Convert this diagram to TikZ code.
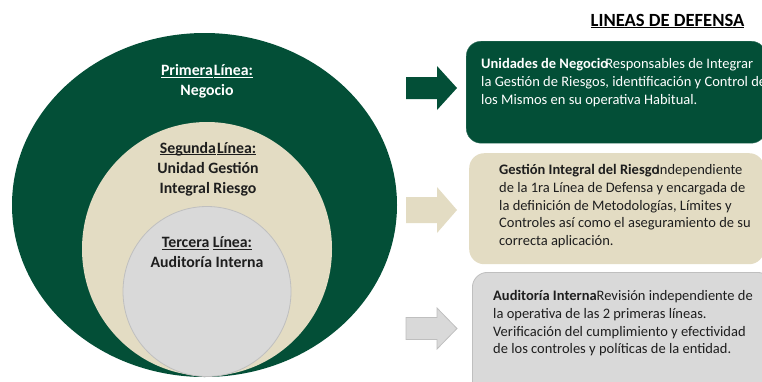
\documentclass[tikz,border=0pt]{standalone}
\usepackage{fontspec}
\setmainfont{Carlito}
\usetikzlibrary{shapes.geometric}
\definecolor{dgreen}{HTML}{034F37}
\definecolor{beige}{HTML}{E3DCC3}
\definecolor{lgray}{HTML}{D9D9D9}
\definecolor{gline}{HTML}{BFBFBF}
\definecolor{dtext}{HTML}{1E1E1E}
\newcommand\myul[1]{\setbox0\hbox{#1}\rlap{\rule[-2.2pt]{\wd0}{1.1pt}}\box0\relax}
\begin{document}
\begin{tikzpicture}[x=1pt,y=-1pt,
  ell/.style={ellipse,inner sep=0pt,draw=none},
  etxt/.style={align=center,inner sep=0pt,font=\fontsize{15.8}{20}\selectfont\bfseries},
  btxt/.style={align=left,inner sep=0pt,anchor=north west,font=\fontsize{14.5}{17.6}\selectfont},
  box/.style={rounded corners=15pt,inner sep=0pt,minimum width=300pt}
]
\useasboundingbox (0,0) rectangle (762,381);
\clip (0,0) rectangle (762,381);
% ellipses
\node[ell,fill=dgreen,minimum width=385pt,minimum height=344pt] (outer) at (204.5,205) {};
\node[ell,fill=beige,minimum width=250pt,minimum height=254pt] (mid) at (207,249) {};
\node[ell,fill=lgray,draw=gline,line width=0.8pt,minimum width=168pt,minimum height=170pt] (inner) at (207,291.5) {};
% ellipse texts
\node[etxt,text=white] (t1) at (207,81.5) {\myul{Primera}\kern1pt\myul{Línea:}\\Negocio};
\node[etxt,text=dtext] (t2) at (208,169) {\myul{Segunda}\kern1pt\myul{Línea:}\\Unidad Gestión\\Integral Riesgo};
\node[etxt,text=dtext] (t3) at (207,252) {\myul{Tercera} \myul{Línea:}\\Auditoría Interna};
% title
\node[anchor=base,inner sep=0pt,font=\fontsize{18.6}{22}\selectfont\bfseries,text=black] (title) at (667.5,26) {\myul{LINEAS DE DEFENSA}};
% arrows
\fill[dgreen] (406,77) -- (437,77) -- (437,66) -- (457,88) -- (437,110) -- (437,99) -- (406,99) -- cycle;
\fill[beige] (406,197) -- (437,197) -- (437,187) -- (457,210) -- (437,233) -- (437,223) -- (406,223) -- cycle;
\filldraw[fill=lgray,draw=gline,line width=0.8pt] (406,317.5) -- (437,317.5) -- (437,308) -- (457,328.5) -- (437,349) -- (437,339.5) -- (406,339.5) -- cycle;
% boxes
\node[box,fill=dgreen,draw=dgreen!80!white,minimum height=102pt,anchor=north west] (b1) at (466,41) {};
\node[box,fill=beige,minimum width=295pt,minimum height=111pt,anchor=north west] (b2) at (469,153) {};
\node[box,fill=lgray,draw=gline,line width=0.8pt,minimum height=130pt,anchor=north west] (b3) at (472,272) {};
% box texts
\node[btxt,text=white] (bt1) at (481,58.5) {\textbf{Unidades de Negocio}\kern-3pt Responsables de Integrar\\la Gestión de Riesgos, identificación y Control de\\los Mismos en su operativa Habitual.};
\node[btxt,text=dtext] (bt2) at (499,164.5) {\textbf{Gestión Integral del Riesgo}\kern-3pt Independiente\\de la 1ra Línea de Defensa y encargada de\\la definición de Metodologías, Límites y\\Controles así como el aseguramiento de su\\correcta aplicación.};
\node[btxt,text=dtext] (bt3) at (493,290.5) {\textbf{Auditoría Interna}Revisión independiente de\\la operativa de las 2 primeras líneas.\\Verificación del cumplimiento y efectividad\\de los controles y políticas de la entidad.};
\end{tikzpicture}
\end{document}
